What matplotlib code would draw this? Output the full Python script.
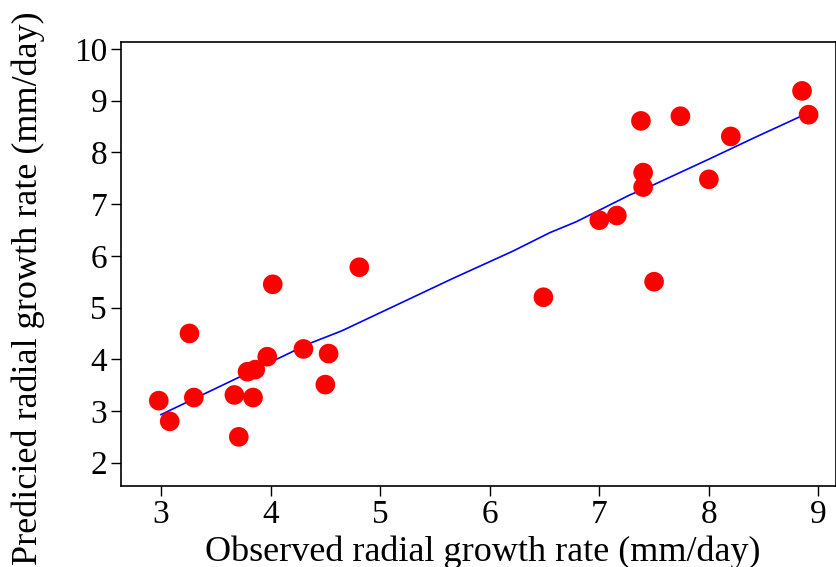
import matplotlib
matplotlib.use("Agg")
import matplotlib.pyplot as plt

# dados
observado = [2.98, 3.08, 3.26, 3.30, 3.67, 3.71, 3.84, 3.79, 3.86, 3.97, 4.02,
             4.30, 4.53, 4.50, 4.81, 6.49, 7.00, 7.16, 7.38, 7.40, 7.40, 7.74,
             7.50, 8.00, 8.20, 8.91, 8.85]
predito = [3.20, 2.80, 4.50, 3.26, 3.31, 2.50, 3.26, 3.76, 3.80, 4.05, 5.45,
           4.20, 4.11, 3.51, 5.78, 5.20, 6.69, 6.78, 8.61, 7.61, 7.33, 8.70,
           5.50, 7.48, 8.31, 8.73, 9.19]

# linha ajustada (vertices lidos)
ajuste_x = [3.00, 3.71, 4.36, 4.65, 5.39, 5.67, 6.21, 6.55, 6.79, 7.28,
            7.46, 7.98, 8.43, 8.83, 8.88]
ajuste_y = [2.93, 3.65, 4.31, 4.55, 5.29, 5.57, 6.09, 6.45, 6.66, 7.18,
            7.34, 7.85, 8.30, 8.69, 8.76]

plt.rcParams['font.family'] = ['Liberation Serif', 'DejaVu Serif']

fig = plt.figure(figsize=(8.36, 5.67), dpi=100)
ax = fig.add_axes([0.1447, 0.1429, 0.8553, 0.7825])

ax.plot(ajuste_x, ajuste_y, color='blue', linewidth=1.2, zorder=2)
ax.scatter(observado, predito, s=200, color='red', edgecolors='none', zorder=3)

ax.set_xlim(2.635, 9.16)
ax.set_ylim(1.55, 10.13)
ax.set_xticks(range(3, 10))
ax.set_yticks(range(2, 11))
ax.tick_params(direction='out', length=7, width=1, labelsize=24, pad=3)
for s in ax.spines.values():
    s.set_linewidth(1.2)

ax.set_xlabel("Observed radial growth rate (mm/day)", fontsize=26)
ax.set_ylabel("Predicied radial growth rate (mm/day)", fontsize=26)
ax.xaxis.set_label_coords(0.506, -0.112)
ax.yaxis.set_label_coords(-0.106, 0.445)

fig.savefig("out.png", dpi=100)
